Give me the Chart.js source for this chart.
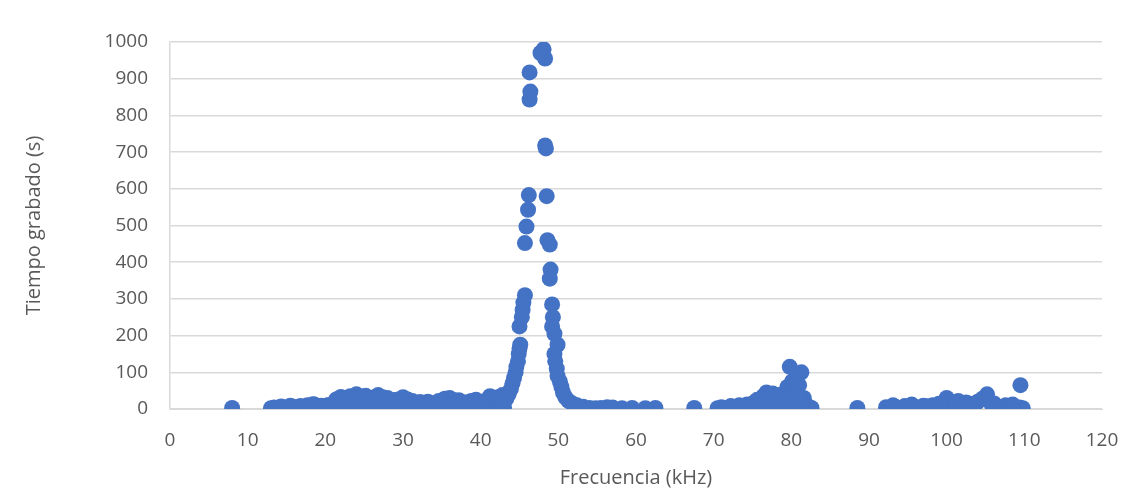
<!DOCTYPE html>
<html>
<head>
<meta charset="utf-8">
<script src="https://cdn.jsdelivr.net/npm/chart.js@4/dist/chart.umd.min.js"></script>
<style>
  html, body { margin: 0; padding: 0; background: #ffffff; }
  #wrap { width: 1126px; height: 492px; }
</style>
</head>
<body>
<div id="wrap"><canvas id="chart" width="1126" height="492"></canvas></div>
<script>
// Frequency (kHz) of each recording and time recorded (s)
const frecuencia = [
  8.0,
  13.0, 13.4, 14.0, 14.6, 15.2, 15.8, 16.3, 16.8, 17.2, 17.7, 18.1, 18.6, 19.0, 19.5, 19.9,
  20.4, 20.8, 21.2, 21.6, 22.0, 22.4, 22.8, 23.2, 23.6, 24.0, 24.4, 24.8, 25.2, 25.6, 26.0,
  26.4, 26.8, 27.2, 27.6, 28.0, 28.4, 28.8, 29.2, 29.6, 30.0, 30.4, 30.8, 31.2, 31.6, 32.0,
  32.4, 32.8, 33.2, 33.6, 34.0, 34.4, 34.8, 35.2, 35.6, 36.0, 36.4, 36.8, 37.2, 37.6, 38.0,
  38.4, 38.8, 39.2, 39.6, 40.0, 40.4, 40.8, 41.2, 41.6, 42.0, 42.4, 42.8,
  17.0, 19.2, 21.0, 23.0, 25.0, 27.0, 29.0, 31.0, 33.0, 35.0, 37.0, 39.0, 41.0, 43.0,
  22.2, 24.2, 26.2, 28.2, 30.2, 34.2, 36.2, 38.2, 40.2,
  14.3, 15.5, 16.6, 18.4, 20.1, 21.4, 22.6, 23.4, 24.6, 25.4, 26.6, 27.4, 28.6, 29.4, 30.6,
  31.4, 32.2, 33.4, 34.6, 35.4, 36.6, 37.4, 38.6, 39.4, 40.6, 41.4, 42.2, 42.6,
  43.3, 43.6, 43.9, 44.1, 44.3, 44.5, 44.6, 44.8, 44.9, 45.0, 45.1, 45.0, 45.3, 45.4, 45.5,
  45.7, 45.7, 45.9, 46.1, 46.2, 46.3, 46.4, 46.3, 47.7, 48.1, 48.3,
  48.3, 48.4, 48.5, 48.6, 48.9, 49.0, 48.9, 49.2, 49.3, 49.2, 49.5, 49.9, 49.5, 49.6, 49.8,
  49.9, 50.2, 50.4, 50.6, 50.9, 51.3, 51.8, 52.4, 53.2, 54.0, 54.8,
  55.5, 56.3, 57.0, 58.2, 59.5, 61.2, 62.5, 67.5,
  70.5, 71.0, 71.6, 72.2, 72.8, 73.3, 73.8, 74.3, 74.8, 75.2, 75.6, 76.0, 76.4, 76.8, 77.2,
  77.6, 78.0, 78.4, 78.8, 79.2, 79.5, 79.8, 80.1, 80.4, 80.7, 81.0, 81.3, 81.6, 81.9, 82.3, 82.6,
  72.0, 74.0, 76.0, 78.0, 80.0, 81.5, 79.0, 80.3, 80.9, 77.9,
  88.5,
  92.2, 92.8, 93.4, 94.0, 94.6, 95.2, 95.8, 96.4, 97.0, 97.6, 98.2, 98.8, 99.4, 100.0, 100.5,
  101.0, 101.5, 102.0, 102.5, 103.0, 103.5, 104.0, 104.6, 105.2, 105.8, 106.4, 107.0, 107.6,
  108.2, 108.8, 109.4, 109.5, 109.8,
  93.1, 95.5, 97.3, 99.0, 101.2, 103.8, 106.1, 108.5
];

const tiempoGrabado = [
  3,
  2, 4, 3, 5, 2, 6, 4, 8, 3, 10, 5, 12, 6, 9, 3,
  11, 7, 14, 20, 33, 27, 15, 35, 22, 40, 28, 12, 36, 24, 18,
  33, 38, 26, 10, 30, 20, 14, 25, 8, 32, 18, 12, 22, 6, 15,
  10, 4, 20, 14, 8, 18, 12, 25, 16, 30, 20, 10, 24, 6, 18,
  12, 22, 15, 8, 20, 10, 14, 35, 25, 30, 18, 38,
  1, 0, 2, 1, 3, 0, 2, 1, 2, 0, 1, 3, 1, 5,
  8, 10, 6, 9, 5, 4, 7, 3, 5,
  7, 9, 5, 13, 8, 26, 30, 28, 34, 31, 27, 32, 24, 18, 26,
  14, 19, 16, 22, 28, 24, 17, 20, 25, 22, 28, 32, 26,
  28, 40, 55, 70, 85, 100, 115, 130, 150, 165, 175, 225, 250, 270, 290,
  310, 452, 497, 543, 583, 843, 865, 917, 970, 980, 955,
  718, 710, 580, 460, 448, 380, 355, 285, 250, 225, 205, 175, 150, 130, 110,
  90, 75, 60, 45, 32, 22, 15, 10, 6, 3, 2,
  3, 5, 4, 2, 3, 2, 3, 3,
  2, 5, 3, 8, 6, 10, 4, 12, 7, 18, 25, 14, 35, 45, 30,
  42, 20, 38, 28, 45, 60, 115, 75, 50, 85, 65, 100, 30, 12, 5, 3,
  1, 2, 3, 4, 6, 8, 22, 40, 35, 15,
  3,
  5, 3, 6, 2, 8, 4, 7, 3, 9, 5, 10, 6, 12, 30, 20,
  15, 22, 10, 18, 14, 8, 20, 28, 40, 12, 8, 5, 10,
  3, 6, 4, 65, 2,
  10, 12, 8, 14, 18, 16, 15, 12
];

const xTicks = { min: 0, max: 120, step: 10 };
const yTicks = { min: 0, max: 1000, step: 100 };

const puntos = frecuencia.map((f, i) => ({ x: f, y: tiempoGrabado[i] }));

const textColor = '#595959';
const gridColor = '#d9d9d9';
const fontFamily = '"Open Sans", "Liberation Sans", sans-serif';

new Chart(document.getElementById('chart'), {
  type: 'scatter',
  data: {
    datasets: [{
      data: puntos,
      backgroundColor: '#4472C4',
      borderColor: '#4472C4',
      borderWidth: 0,
      pointRadius: 8,
      pointHoverRadius: 8
    }]
  },
  options: {
    responsive: false,
    animation: false,
    layout: { padding: { left: 0, right: 24, top: 42, bottom: 0 } },
    plugins: { legend: { display: false }, tooltip: { enabled: false } },
    scales: {
      x: {
        type: 'linear',
        min: xTicks.min,
        max: xTicks.max,
        afterFit: (s) => { s.height = 83; s.paddingRight = 0; s.paddingLeft = 0; },
        ticks: {
          stepSize: xTicks.step,
          color: textColor,
          padding: 20,
          font: { family: fontFamily, size: 19 },
          callback: (v) => String(v)
        },
        grid: { display: false, drawTicks: false },
        border: { display: true, color: gridColor },
        title: {
          display: true,
          text: 'Frecuencia (kHz)',
          color: textColor,
          font: { family: fontFamily, size: 20 },
          padding: { top: 0, bottom: 2 }
        }
      },
      y: {
        type: 'linear',
        min: yTicks.min,
        max: yTicks.max,
        afterFit: (s) => { s.width = 170; },
        ticks: {
          stepSize: yTicks.step,
          color: textColor,
          padding: 22,
          font: { family: fontFamily, size: 19 },
          callback: (v) => String(v)
        },
        grid: { color: gridColor, lineWidth: 1.5, drawTicks: false },
        border: { display: true, color: gridColor, width: 1.5 },
        title: {
          display: true,
          text: 'Tiempo grabado (s)',
          color: textColor,
          font: { family: fontFamily, size: 20 },
          padding: { top: 22, bottom: 0 }
        }
      }
    }
  }
});
</script>
</body>
</html>
